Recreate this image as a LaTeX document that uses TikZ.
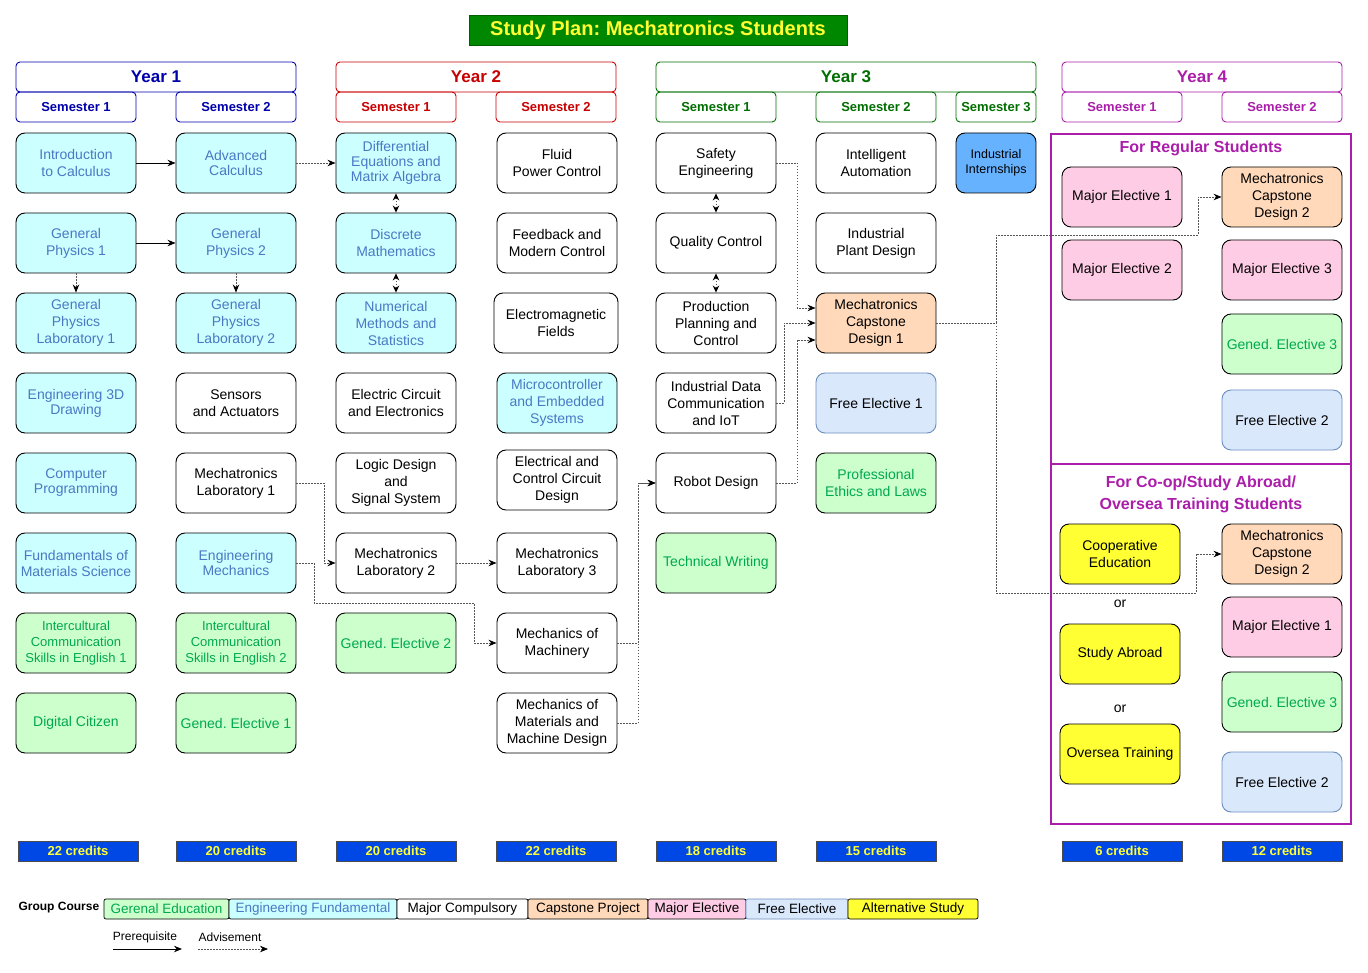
\documentclass[tikz,border=0pt]{standalone}
\usepackage{fontspec}
\setmainfont{Liberation Sans}
\frenchspacing
\usetikzlibrary{arrows.meta}
\definecolor{efFill}{HTML}{CCFFFF}
\definecolor{efText}{RGB}{74,120,196}
\definecolor{geFill}{HTML}{CCFFCC}
\definecolor{geText}{RGB}{0,168,80}
\definecolor{cpFill}{RGB}{255,217,185}
\definecolor{meFill}{HTML}{FFCCE6}
\definecolor{feFill}{HTML}{DAE8FC}
\definecolor{feDraw}{HTML}{6C8EBF}
\definecolor{altFill}{HTML}{FFFF33}
\definecolor{intFill}{HTML}{66B2FF}
\definecolor{crFill}{RGB}{0,72,230}
\definecolor{crText}{HTML}{FFFF33}
\definecolor{ttlFill}{RGB}{0,135,0}
\definecolor{yOne}{RGB}{0,0,170}
\definecolor{yTwo}{RGB}{200,0,0}
\definecolor{yThree}{RGB}{0,110,0}
\definecolor{yFour}{RGB}{170,30,170}
\definecolor{advGray}{RGB}{85,85,85}
\tikzset{
  box/.style={draw=black, rounded corners=9pt, minimum width=120pt, minimum height=60pt,
    align=center, inner sep=1pt, line width=0.9pt, font=\fontsize{14}{17}\selectfont},
  ef/.style={box, fill=efFill, text=efText},
  ge/.style={box, fill=geFill, text=geText},
  mc/.style={box, fill=white, text=black},
  cp/.style={box, fill=cpFill, text=black},
  me/.style={box, fill=meFill, text=black},
  fe/.style={box, fill=feFill, draw=feDraw, text=black},
  alt/.style={box, fill=altFill, text=black},
  tightls/.style={font=\fontsize{14}{15}\selectfont},
  smallls/.style={font=\fontsize{13}{16}\selectfont},
  yearbox/.style={draw=#1, text=#1, rounded corners=4pt, line width=0.9pt, minimum width=280pt,
    minimum height=30pt, inner sep=0pt, font=\fontsize{17}{20}\selectfont\bfseries},
  sembox/.style={draw=#1, text=#1, rounded corners=4pt, line width=0.9pt, minimum width=120pt,
    minimum height=30pt, inner sep=0pt, font=\fontsize{13}{15}\selectfont\bfseries},
  credit/.style={draw=black!70, fill=crFill, text=crText, minimum width=120pt, minimum height=20pt,
    inner sep=0pt, line width=0.6pt, font=\fontsize{13}{15}\selectfont\bfseries},
  leg/.style={draw=black, rounded corners=2pt, minimum height=20pt, inner sep=0pt, line width=0.7pt,
    font=\fontsize{13.5}{15}\selectfont},
  grp/.style={draw=yFour, line width=2pt},
  grptitle/.style={text=yFour, align=center, font=\fontsize{16}{22}\selectfont\bfseries},
  pre/.style={draw=black, line width=0.9pt, -{Stealth[length=8pt,width=6.5pt]}},
  adv/.style={draw=advGray, line width=0.8pt, dash pattern=on 1.5pt off 1.5pt,
    -{Stealth[length=8pt,width=6.5pt,color=black]}},
  advb/.style={draw=advGray, line width=0.8pt, dash pattern=on 1.5pt off 1.5pt,
    {Stealth[length=7pt,width=6.5pt,color=black]}-{Stealth[length=7pt,width=6.5pt,color=black]}},
}
\begin{document}
\begin{tikzpicture}[x=1pt,y=-1pt]
\useasboundingbox (0,0) rectangle (1368,973);

% Title
\node[fill=ttlFill, draw=ttlFill!70!black, text=crText, minimum width=378pt, minimum height=30pt,
  inner sep=0pt, font=\fontsize{20}{22}\selectfont\bfseries] (title) at (658,30) {Study Plan: Mechatronics Students};

% Year headers
\node[yearbox=yOne] (y1) at (156,77) {Year 1};
\node[yearbox=yTwo] (y2) at (476,77) {Year 2};
\node[yearbox=yThree, minimum width=380pt] (y3) at (846,77) {Year 3};
\node[yearbox=yFour] (y4) at (1202,77) {Year 4};
\node[sembox=yOne] (s11) at (76,107) {Semester 1};
\node[sembox=yOne] (s12) at (236,107) {Semester 2};
\node[sembox=yTwo] (s21) at (396,107) {Semester 1};
\node[sembox=yTwo] (s22) at (556,107) {Semester 2};
\node[sembox=yThree] (s31) at (716,107) {Semester 1};
\node[sembox=yThree] (s32) at (876,107) {Semester 2};
\node[sembox=yThree, minimum width=80pt] (s33) at (996,107) {Semester 3};
\node[sembox=yFour] (s41) at (1122,107) {Semester 1};
\node[sembox=yFour] (s42) at (1282,107) {Semester 2};

% Column 1
\node[ef] (intro) at (76,163) {Introduction\\to Calculus};
\node[ef] (gp1) at (76,243) {General\\Physics 1};
\node[ef] (gpl1) at (76,323) {General\\Physics\\Laboratory 1};
\node[ef, tightls] (draw3d) at (76,403) {Engineering 3D\\Drawing};
\node[ef, tightls] (comp) at (76,483) {Computer\\Programming};
\node[ef, font=\fontsize{14}{16}\selectfont] (matsci) at (76,563) {Fundamentals of\\Materials Science};
\node[ge, smallls] (icse1) at (76,643) {Intercultural\\Communication\\Skills in English 1};
\node[ge] (digcit) at (76,723) {Digital Citizen};

% Column 2
\node[ef, tightls] (advcalc) at (236,163) {Advanced\\Calculus};
\node[ef] (gp2) at (236,243) {General\\Physics 2};
\node[ef] (gpl2) at (236,323) {General\\Physics\\Laboratory 2};
\node[mc] (sensor) at (236,403) {Sensors\\and Actuators};
\node[mc] (mlab1) at (236,483) {Mechatronics\\Laboratory 1};
\node[ef, tightls] (engmech) at (236,563) {Engineering\\Mechanics};
\node[ge, smallls] (icse2) at (236,643) {Intercultural\\Communication\\Skills in English 2};
\node[ge] (ge1) at (236,723) {Gened. Elective 1};

% Column 3
\node[ef, tightls] (diffeq) at (396,163) {Differential\\Equations and\\Matrix Algebra};
\node[ef] (discrete) at (396,243) {Discrete\\Mathematics};
\node[ef] (numer) at (396,323) {Numerical\\Methods and\\Statistics};
\node[mc] (circuit) at (396,403) {Electric Circuit\\and Electronics};
\node[mc] (logic) at (396,483) {Logic Design\\and\\Signal System};
\node[mc] (mlab2) at (396,563) {Mechatronics\\Laboratory 2};
\node[ge] (ge2) at (396,643) {Gened. Elective 2};

% Column 4
\node[mc] (fluid) at (557,163) {Fluid\\Power Control};
\node[mc] (feedback) at (557,243) {Feedback and\\Modern Control};
\node[mc, minimum width=124pt] (emf) at (556,323) {Electromagnetic\\Fields};
\node[ef] (micro) at (557,403) {Microcontroller\\and Embedded\\Systems};
\node[mc] (eccd) at (557,480) {Electrical and\\Control Circuit\\Design};
\node[mc] (mlab3) at (557,563) {Mechatronics\\Laboratory 3};
\node[mc] (mechmach) at (557,643) {Mechanics of\\Machinery};
\node[mc] (mechmat) at (557,723) {Mechanics of\\Materials and\\Machine Design};

% Column 5
\node[mc] (safety) at (716,163) {Safety\\Engineering};
\node[mc] (quality) at (716,243) {Quality Control};
\node[mc] (prod) at (716,323) {Production\\Planning and\\Control};
\node[mc] (inddata) at (716,403) {Industrial Data\\Communication\\and IoT};
\node[mc] (robot) at (716,483) {Robot Design};
\node[ge] (techwr) at (716,563) {Technical Writing};

% Column 6
\node[mc] (intauto) at (876,163) {Intelligent\\Automation};
\node[mc] (plant) at (876,243) {Industrial\\Plant Design};
\node[cp] (cap1) at (876,323) {Mechatronics\\Capstone\\Design 1};
\node[fe] (fe1) at (876,403) {Free Elective 1};
\node[ge] (ethics) at (876,483) {Professional\\Ethics and Laws};

% Column 7
\node[box, fill=intFill, text=black, minimum width=80pt, font=\fontsize{12.5}{15}\selectfont] (intern) at (996,163) {Industrial\\Internships};

% Year 4 groups
\draw[grp] (1051,134) rectangle (1351,464);
\draw[grp] (1051,464) rectangle (1351,824);
\node[grptitle] (regt) at (1201,148) {For Regular Students};
\node[grptitle] (coopt) at (1201,494) {For Co-op/Study Abroad/\\Oversea Training Students};

\node[me] (me1r) at (1122,197) {Major Elective 1};
\node[cp] (cap2r) at (1282,197) {Mechatronics\\Capstone\\Design 2};
\node[me] (me2r) at (1122,270) {Major Elective 2};
\node[me] (me3r) at (1282,270) {Major Elective 3};
\node[ge] (ge3r) at (1282,344) {Gened. Elective 3};
\node[fe] (fe2r) at (1282,420) {Free Elective 2};

\node[alt] (coop) at (1120,554) {Cooperative\\Education};
\node[font=\fontsize{14}{17}\selectfont] (or1) at (1120,604) {or};
\node[alt] (abroad) at (1120,654) {Study Abroad};
\node[font=\fontsize{14}{17}\selectfont] (or2) at (1120,709) {or};
\node[alt] (oversea) at (1120,754) {Oversea Training};
\node[cp] (cap2c) at (1282,554) {Mechatronics\\Capstone\\Design 2};
\node[me] (me1c) at (1282,627) {Major Elective 1};
\node[ge] (ge3c) at (1282,702) {Gened. Elective 3};
\node[fe] (fe2c) at (1282,782) {Free Elective 2};

% Credits
\node[credit] (cr1) at (78,851) {22 credits};
\node[credit] (cr2) at (236,851) {20 credits};
\node[credit] (cr3) at (396,851) {20 credits};
\node[credit] (cr4) at (556,851) {22 credits};
\node[credit] (cr5) at (716,851) {18 credits};
\node[credit] (cr6) at (876,851) {15 credits};
\node[credit] (cr7) at (1122,851) {6 credits};
\node[credit] (cr8) at (1282,851) {12 credits};

% Legend
\node[anchor=west, font=\fontsize{12}{14}\selectfont\bfseries] (grpc) at (15,908) {Group Course};
\node[leg, fill=geFill, text=geText, minimum width=125pt] (lge) at (166.5,909) {Gerenal Education};
\node[leg, fill=efFill, text=efText, minimum width=168pt] (lef) at (313,909) {Engineering Fundamental};
\node[leg, fill=white, minimum width=131pt] (lmc) at (462.5,909) {Major Compulsory};
\node[leg, fill=cpFill, minimum width=120pt] (lcp) at (588,909) {Capstone Project};
\node[leg, fill=meFill, minimum width=98pt] (lme) at (697,909) {Major Elective};
\node[leg, fill=feFill, draw=feDraw, minimum width=102pt] (lfe) at (797,909) {Free Elective};
\node[leg, fill=altFill, minimum width=130pt] (lalt) at (913,909) {Alternative Study};

\node[font=\fontsize{12}{14}\selectfont] (lpre) at (145,937) {Prerequisite};
\node[font=\fontsize{12}{14}\selectfont] (ladv) at (230,937) {Advisement};
\coordinate (p1) at (113,949); \coordinate (p2) at (182,949);
\coordinate (a1) at (198,949); \coordinate (a2) at (268,949);
\draw[pre] (p1) -- (p2);
\draw[adv] (a1) -- (a2);

% Connectors
\draw[pre] (intro) -- (advcalc);
\draw[pre] (gp1) -- (gp2);
\draw[adv] (advcalc) -- (diffeq);
\draw[adv] (gp1) -- (gpl1);
\draw[adv] (gp2) -- (gpl2);
\draw[advb] (diffeq) -- (discrete);
\draw[advb] (discrete) -- (numer);
\draw[advb] (safety) -- (quality);
\draw[advb] (quality) -- (prod);
\draw[adv] (mlab1.east) -- ++(28,0) |- (mlab2.west);
\draw[adv] (mlab2) -- (mlab3);
\draw[adv] (engmech.east) -- ++(18,0) |- (474,603) |- (mechmach.west);
\draw[adv] (mechmach.east) -- ++(21,0) |- (robot.west);
\draw[adv] (mechmat.east) -- ++(21,0) |- (robot.west);
\draw[adv] (safety.east) -- ++(21,0) |- ([yshift=15pt]cap1.west);
\draw[adv] (inddata.east) -- ++(8,0) |- (cap1.west);
\draw[adv] (robot.east) -- ++(21,0) |- ([yshift=-17pt]cap1.west);
\draw[adv] (cap1.east) -- ++(60,0) |- (1198,235) |- (cap2r.west);
\draw[adv] (cap1.east) -- ++(60,0) |- (1196,593) |- (cap2c.west);
\end{tikzpicture}
\end{document}
